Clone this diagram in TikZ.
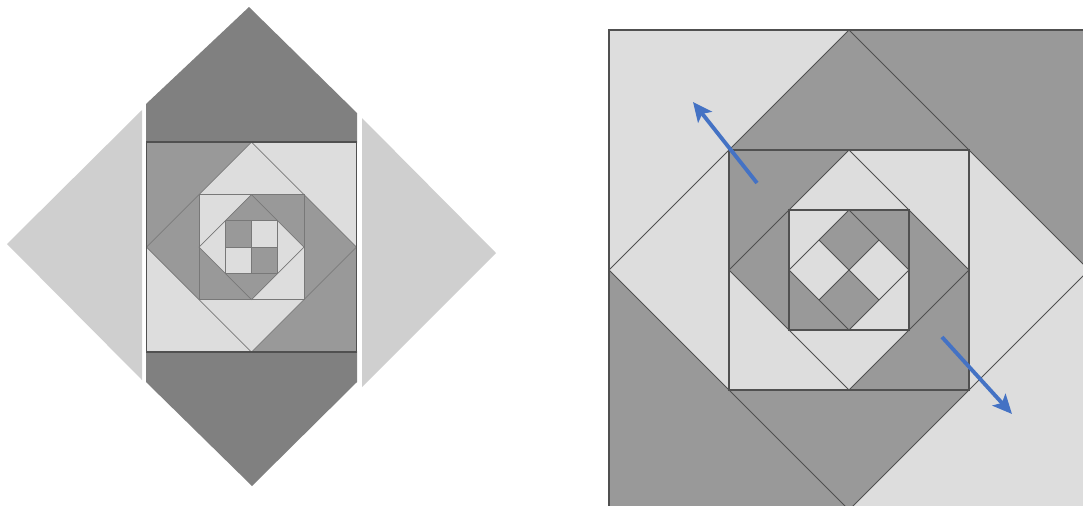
\documentclass[tikz,border=0pt]{standalone}
\usepackage{tikz}
\usetikzlibrary{arrows.meta}
\definecolor{tiledark}{RGB}{153,153,153}
\definecolor{tilelight}{RGB}{221,221,221}
\definecolor{wingdark}{RGB}{128,128,128}
\definecolor{winglight}{RGB}{207,207,207}
\definecolor{edgegray}{RGB}{80,80,80}
\definecolor{softgray}{RGB}{120,120,120}
\definecolor{pushblue}{RGB}{68,114,196}
\tikzset{
  tdark/.style    = {fill=tiledark},
  tlight/.style   = {fill=tilelight},
  sqline/.style   = {draw=edgegray, line width=0.8pt},
  dialine/.style  = {draw=edgegray, line width=0.45pt},
  softline/.style = {draw=softgray, line width=0.4pt},
  pushflow/.style = {-{Stealth[length=11pt,width=10pt,inset=2.5pt]}, line width=2.2pt, pushblue},
}
\begin{document}
\begin{tikzpicture}[x=0.02cm, y=-0.02cm]
  \useasboundingbox (0,0) rectangle (1083,505);

  % left: cut diamond
  \fill[winglight] (7,244) -- (142,110) -- (142,380) -- cycle;
  \fill[winglight] (496,253) -- (362,118) -- (362,387) -- cycle;
  \fill[wingdark] (146,143) -- (146,104) -- (249,7) -- (357,113) -- (357,143) -- cycle;
  \fill[wingdark] (146,351) -- (146,382) -- (252,486) -- (357,382) -- (357,351) -- cycle;

  \begin{scope}[shift={(251.5,247)}]
    \fill[tlight] (-105,-105) rectangle (105,105);
    \fill[tdark] (-105,-105) -- (0,-105) -- (-105,0) -- cycle;
    \fill[tdark] (105,105) -- (0,105) -- (105,0) -- cycle;
    \fill[tlight] (0,-105) -- (105,0) -- (0,105) -- (-105,0) -- cycle;
    \fill[tdark] (-105,0) -- (-52.5,-52.5) -- (-52.5,52.5) -- cycle;
    \fill[tdark] (105,0) -- (52.5,-52.5) -- (52.5,52.5) -- cycle;
    \fill[tlight] (-52.5,-52.5) rectangle (52.5,52.5);
    \fill[tdark] (0,-52.5) -- (52.5,-52.5) -- (52.5,0) -- cycle;
    \fill[tdark] (0,52.5) -- (-52.5,52.5) -- (-52.5,0) -- cycle;
    \fill[tdark] (0,-52.5) -- (52.5,0) -- (0,52.5) -- (-52.5,0) -- cycle;
    \fill[tlight] (-52.5,0) -- (-26.25,-26.25) -- (-26.25,26.25) -- cycle;
    \fill[tlight] (52.5,0) -- (26.25,-26.25) -- (26.25,26.25) -- cycle;
    \fill[tlight] (-26.25,-26.25) rectangle (26.25,26.25);
    \fill[tdark] (-26.25,-26.25) rectangle (0,0);
    \fill[tdark] (0,0) rectangle (26.25,26.25);
    \draw[softline] (0,-105) -- (105,0) -- (0,105) -- (-105,0) -- cycle;
    \draw[softline] (0,-52.5) -- (52.5,0) -- (0,52.5) -- (-52.5,0) -- cycle;
    \draw[softline] (-52.5,-52.5) rectangle (52.5,52.5);
    \draw[softline] (-26.25,-26.25) rectangle (26.25,26.25);
    \draw[softline] (0,-26.25) -- (0,26.25) (-26.25,0) -- (26.25,0);
    \draw[sqline] (-105,-105) rectangle (105,105);
  \end{scope}

  % right: tiled square
  \begin{scope}
    \clip (600,22) rectangle (1083,505);
    \begin{scope}[shift={(849,270)}]
      \fill[tlight] (-240,-240) rectangle (240,240);
      \fill[tdark] (0,-240) -- (240,-240) -- (240,0) -- cycle;
      \fill[tdark] (0,240) -- (-240,240) -- (-240,0) -- cycle;
      \fill[tlight] (0,-240) -- (240,0) -- (0,240) -- (-240,0) -- cycle;
      \fill[tdark] (0,-240) -- (120,-120) -- (-120,-120) -- cycle;
      \fill[tdark] (0,240) -- (120,120) -- (-120,120) -- cycle;
      \fill[tdark] (-120,-120) rectangle (120,120);
      \fill[tlight] (0,-120) -- (120,-120) -- (120,0) -- cycle;
      \fill[tlight] (0,120) -- (-120,120) -- (-120,0) -- cycle;
      \fill[tlight] (0,-120) -- (120,0) -- (0,120) -- (-120,0) -- cycle;
      \fill[tdark] (-120,0) -- (-60,-60) -- (-60,60) -- cycle;
      \fill[tdark] (120,0) -- (60,-60) -- (60,60) -- cycle;
      \fill[tlight] (-60,-60) rectangle (60,60);
      \fill[tdark] (0,-60) -- (60,-60) -- (60,0) -- cycle;
      \fill[tdark] (0,60) -- (-60,60) -- (-60,0) -- cycle;
      \fill[tlight] (0,-60) -- (60,0) -- (0,60) -- (-60,0) -- cycle;
      \fill[tdark] (0,-60) -- (30,-30) -- (0,0) -- (-30,-30) -- cycle;
      \fill[tdark] (0,60) -- (30,30) -- (0,0) -- (-30,30) -- cycle;
      \draw[dialine] (0,-240) -- (240,0) -- (0,240) -- (-240,0) -- cycle;
      \draw[dialine] (0,-120) -- (120,0) -- (0,120) -- (-120,0) -- cycle;
      \draw[dialine] (0,-60) -- (60,0) -- (0,60) -- (-60,0) -- cycle;
      \draw[dialine] (-30,-30) -- (30,30) (30,-30) -- (-30,30);
      \draw[sqline] (-120,-120) rectangle (120,120);
      \draw[sqline] (-60,-60) rectangle (60,60);
      \draw[sqline] (-240,-240) rectangle (240,240);
    \end{scope}
  \end{scope}

  \coordinate (nwtail) at (757,183);
  \coordinate (nwtip)  at (693,102);
  \coordinate (setail) at (942,337);
  \coordinate (setip)  at (1012,414);
  \draw[pushflow] (nwtail) -- (nwtip);
  \draw[pushflow] (setail) -- (setip);
\end{tikzpicture}
\end{document}
